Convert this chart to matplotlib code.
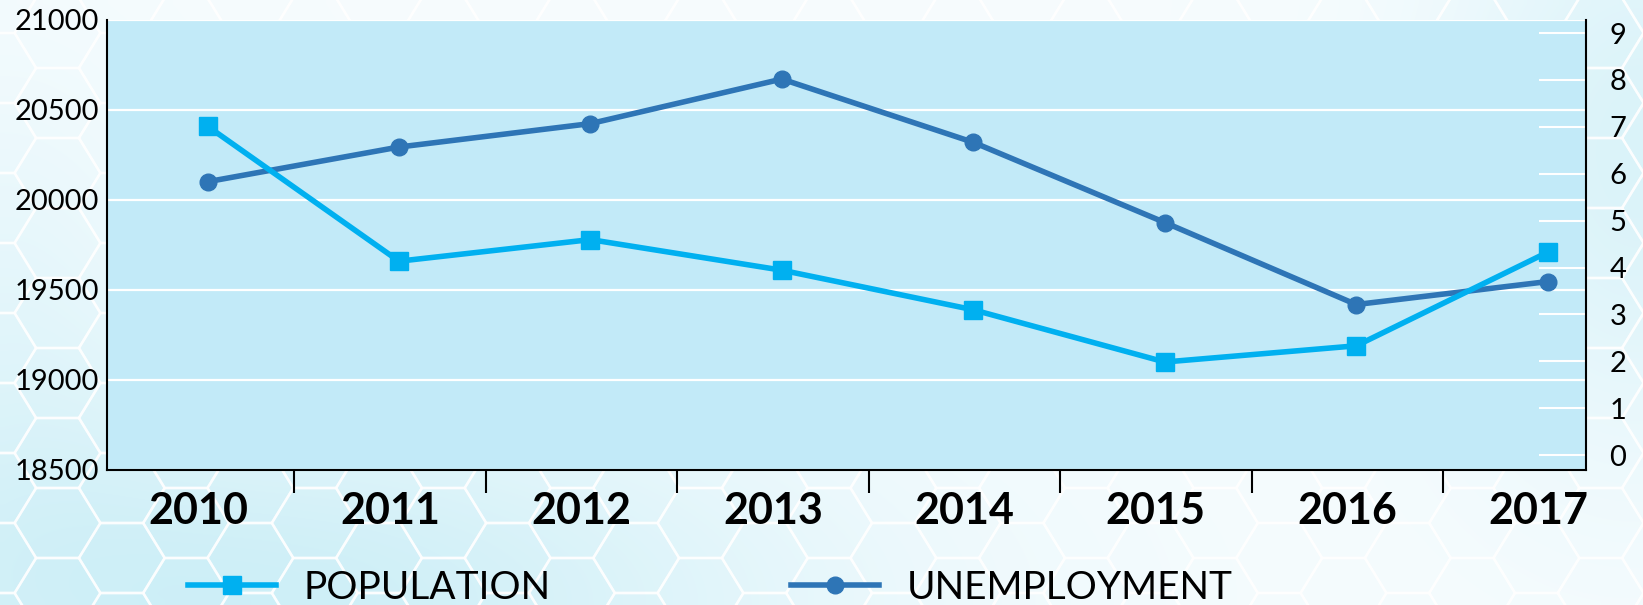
import numpy as np
import matplotlib
matplotlib.use("Agg")
import matplotlib.pyplot as plt
from matplotlib.collections import PolyCollection
from matplotlib.lines import Line2D

# ---- data ----
years = ['2010', '2011', '2012', '2013', '2014', '2015', '2016', '2017']
population = [20410, 19660, 19780, 19610, 19390, 19100, 19190, 19710]
unemployment = [5.83, 6.57, 7.07, 8.02, 6.67, 4.96, 3.21, 3.70]
left_ticks = [18500, 19000, 19500, 20000, 20500, 21000]
right_ticks = [0, 1, 2, 3, 4, 5, 6, 7, 8, 9]

POP_COLOR = '#00B0F0'
UNEMP_COLOR = '#2E75B6'
PLOT_BG = '#C2EAF8'

plt.rcParams['font.family'] = ['Lato', 'DejaVu Sans']

W, H, DPI = 1643, 605, 100
fig = plt.figure(figsize=(W / DPI, H / DPI), dpi=DPI)

# ---- background: gradient + hexagon pattern ----
bg = fig.add_axes([0, 0, 1, 1], zorder=-5)
bg.set_axis_off()
bg.set_xlim(0, W)
bg.set_ylim(H, 0)
gx = np.linspace(0, 1, 200)
gy = np.linspace(0, 1, 80)
X, Y = np.meshgrid(gx, gy)
w = 0.95 * np.exp(-(((X - 0.15) / 0.35) ** 2 + ((Y - 1.0) / 0.35) ** 2))
w += 0.65 * np.exp(-(((X - 1.0) / 0.12) ** 2 + ((Y - 0.25) / 0.5) ** 2))
w += 0.35 * np.exp(-(((X - 0.0) / 0.1) ** 2 + ((Y - 0.5) / 0.4) ** 2))
w = np.clip(w, 0, 1)
c0 = np.array([0.965, 0.988, 0.996])
c1 = np.array([0.80, 0.935, 0.968])
img = c0[None, None, :] * (1 - w[..., None]) + c1[None, None, :] * w[..., None]
bg.imshow(img, extent=[0, W, H, 0], aspect='auto', interpolation='bilinear')

a, hh = 43.0, 35.0
polys = []
for j in range(-1, 28):
    cx = 57.5 + 64.3 * j
    off = 0 if j % 2 == 0 else 35
    for k in range(-2, 11):
        cy = 33 + off + 70 * k
        polys.append([(cx - a, cy), (cx - a / 2, cy - hh), (cx + a / 2, cy - hh),
                      (cx + a, cy), (cx + a / 2, cy + hh), (cx - a / 2, cy + hh)])
bg.add_collection(PolyCollection(polys, facecolors='none', edgecolors='white',
                                 linewidths=1.8, alpha=0.75))

# ---- main axes ----
ax = fig.add_axes([107 / W, 1 - 470 / H, (1586 - 107) / W, (470 - 20) / H], zorder=1)
ax.set_facecolor(PLOT_BG)
ax2 = ax.twinx()

x = np.arange(len(years))
label_shift = -0.047

ax.set_xlim(-0.525, 7.2)
ax.set_ylim(18500, 21000)
ax2.set_ylim(-0.32, 9.28)

ax.set_yticks(left_ticks)
ax.set_yticklabels([str(v) for v in left_ticks])
ax.grid(axis='y', color='white', linewidth=1.6)
ax.set_axisbelow(True)
ax.tick_params(axis='y', length=0, pad=6, labelsize=21, labelcolor='black')

ax.set_xticks(x + label_shift)
ax.set_xticklabels(years, fontweight='bold')
ax.set_xticks(x[:-1] + 0.5 + label_shift, minor=True)
ax.tick_params(axis='x', which='major', length=0, pad=15, labelsize=31)
ax.tick_params(axis='x', which='minor', length=16.5, width=1.5, direction='out', color='black')

ax2.set_yticks(right_ticks)
ax2.set_yticklabels([str(v) for v in right_ticks])
ax2.tick_params(axis='y', direction='in', length=34, width=1.5, color='white',
                pad=17, labelsize=21, labelcolor='black')

for s in ['top']:
    ax.spines[s].set_visible(False)
    ax2.spines[s].set_visible(False)
ax2.spines['left'].set_visible(False)
ax2.spines['bottom'].set_visible(False)
ax.spines['right'].set_visible(False)
for sp in [ax.spines['left'], ax.spines['bottom'], ax2.spines['right']]:
    sp.set_color('black')
    sp.set_linewidth(1.5)

# unemployment drawn in ax with the right-axis scale so population stays on top
ax.plot(x, unemployment, color=UNEMP_COLOR, lw=4, marker='o', ms=12,
        transform=ax2.transData, zorder=3, clip_on=False)
ax.plot(x, population, color=POP_COLOR, lw=4, marker='s', ms=12.5, zorder=4, clip_on=False)

# ---- legend ----
h_pop = Line2D([], [], color=POP_COLOR, lw=4, marker='s', ms=12.5)
h_un = Line2D([], [], color=UNEMP_COLOR, lw=4, marker='o', ms=12)
common = dict(loc='center left', frameon=False, fontsize=28, handlelength=2.26,
              handletextpad=0.72, borderpad=0, borderaxespad=0, numpoints=1)
fig.legend([h_pop], ['POPULATION'], bbox_to_anchor=(188 / W, 1 - 588 / H), **common)
fig.legend([h_un], ['UNEMPLOYMENT'], bbox_to_anchor=(791 / W, 1 - 588 / H), **common)

fig.savefig('out.png', dpi=DPI)
